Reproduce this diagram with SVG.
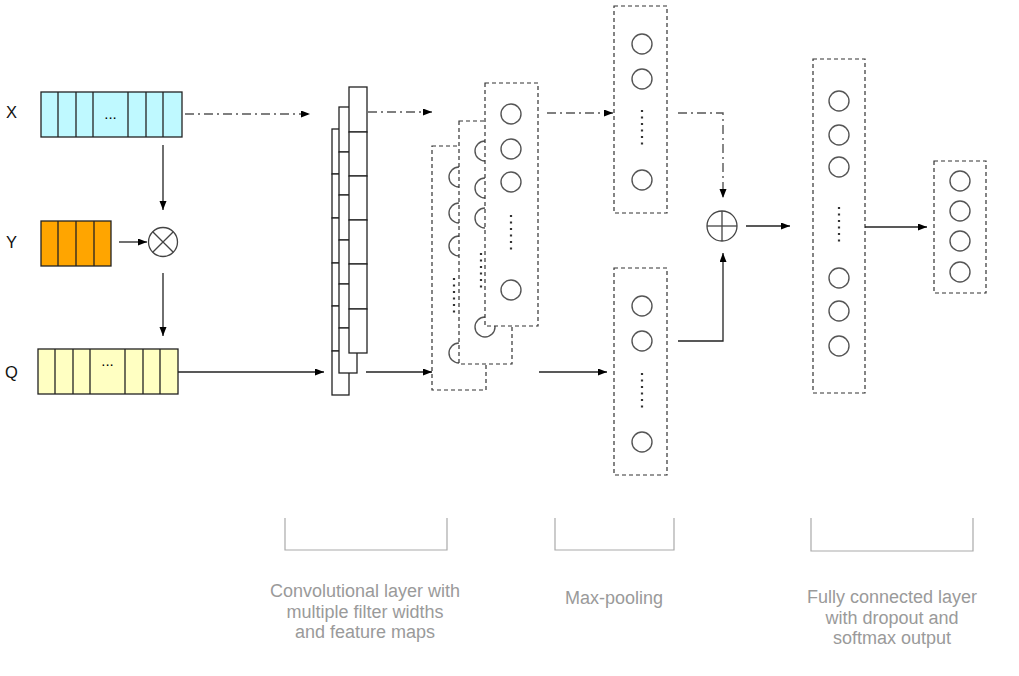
<svg xmlns="http://www.w3.org/2000/svg" width="1019" height="676" viewBox="0 0 1019 676">
<defs>
<marker id="arr" markerUnits="userSpaceOnUse" markerWidth="10" markerHeight="8" refX="9" refY="3.5" orient="auto">
<path d="M0,0 L9,3.5 L0,7 Z" fill="#000"/>
</marker>
</defs>
<style>
.lbl{font-family:"Liberation Sans",Arial,sans-serif;font-size:16.5px;fill:#111}
.dots{font-family:"Liberation Sans",Arial,sans-serif;font-size:15px;fill:#000}
.cap{font-family:"Liberation Sans",Arial,sans-serif;font-size:18px;fill:#9a9a9a;text-anchor:middle}
.cell{stroke:#222;stroke-width:1.3}
.fmap{fill:#fff;stroke:#333;stroke-width:1.2;stroke-dasharray:4 3}
.neu{fill:none;stroke:#555;stroke-width:1.4}
.vd{stroke:#333;stroke-width:2.2;stroke-dasharray:2 4.5}
.solid{fill:none;stroke:#222;stroke-width:1.3}
.dd{fill:none;stroke:#555;stroke-width:1.4;stroke-dasharray:9 4 2 4}
.brk{fill:none;stroke:#aaa;stroke-width:1.2}
.op{fill:#fff;stroke:#444;stroke-width:1.3}
</style>

<g id="label-X"><text class="lbl" x="6" y="118">X</text></g>
<g id="label-Y"><text class="lbl" x="6" y="248">Y</text></g>
<g id="label-Q"><text class="lbl" x="5" y="378">Q</text></g>

<g id="X">
<rect class="cell" x="41" y="92" width="141" height="45" fill="#bff9ff"/>
<line class="cell" x1="58" y1="92" x2="58" y2="137"/>
<line class="cell" x1="76" y1="92" x2="76" y2="137"/>
<line class="cell" x1="93" y1="92" x2="93" y2="137"/>
<line class="cell" x1="128" y1="92" x2="128" y2="137"/>
<line class="cell" x1="146" y1="92" x2="146" y2="137"/>
<line class="cell" x1="163" y1="92" x2="163" y2="137"/>
<text class="dots" x="110.5" y="119" text-anchor="middle">...</text>
</g>

<g id="Y">
<rect class="cell" x="41" y="221" width="70" height="45" fill="#ffa500"/>
<line class="cell" x1="58" y1="221" x2="58" y2="266"/>
<line class="cell" x1="76" y1="221" x2="76" y2="266"/>
<line class="cell" x1="94" y1="221" x2="94" y2="266"/>
</g>

<g id="Q">
<rect class="cell" x="38" y="349" width="140" height="45" fill="#ffffc2"/>
<line class="cell" x1="55" y1="349" x2="55" y2="394"/>
<line class="cell" x1="73" y1="349" x2="73" y2="394"/>
<line class="cell" x1="90" y1="349" x2="90" y2="394"/>
<line class="cell" x1="125" y1="349" x2="125" y2="394"/>
<line class="cell" x1="143" y1="349" x2="143" y2="394"/>
<line class="cell" x1="160" y1="349" x2="160" y2="394"/>
<text class="dots" x="107.5" y="366" text-anchor="middle">...</text>
</g>

<g id="otimes">
<circle class="op" cx="163" cy="242" r="14.5"/>
<line class="op" x1="152.7" y1="231.7" x2="173.3" y2="252.3"/>
<line class="op" x1="173.3" y1="231.7" x2="152.7" y2="252.3"/>
</g>

<g id="conv">
<g fill="#fff">
<rect class="cell" x="332" y="129" width="17" height="45"/>
<rect class="cell" x="332" y="174" width="17" height="44"/>
<rect class="cell" x="332" y="218" width="17" height="45"/>
<rect class="cell" x="332" y="263" width="17" height="43"/>
<rect class="cell" x="332" y="306" width="17" height="45"/>
<rect class="cell" x="332" y="351" width="17" height="44"/>
<rect class="cell" x="339" y="107" width="18" height="45"/>
<rect class="cell" x="339" y="152" width="18" height="43"/>
<rect class="cell" x="339" y="195" width="18" height="45"/>
<rect class="cell" x="339" y="240" width="18" height="44"/>
<rect class="cell" x="339" y="284" width="18" height="44"/>
<rect class="cell" x="339" y="328" width="18" height="45"/>
<rect class="cell" x="349" y="87" width="18" height="45"/>
<rect class="cell" x="349" y="132" width="18" height="44"/>
<rect class="cell" x="349" y="176" width="18" height="44"/>
<rect class="cell" x="349" y="220" width="18" height="44"/>
<rect class="cell" x="349" y="264" width="18" height="45"/>
<rect class="cell" x="349" y="309" width="18" height="44"/>
</g>
</g>

<g id="feature-map-1">
<rect class="fmap" x="432" y="146" width="54" height="244"/>
<circle class="neu" cx="459" cy="177" r="10"/>
<circle class="neu" cx="459" cy="213" r="10"/>
<circle class="neu" cx="459" cy="246" r="10"/>
<circle class="neu" cx="459" cy="353" r="10"/>
<line class="vd" x1="454" y1="278" x2="454" y2="316"/>
</g>
<g id="feature-map-2">
<rect class="fmap" x="459" y="121" width="53" height="243"/>
<circle class="neu" cx="485" cy="151" r="10"/>
<circle class="neu" cx="485" cy="188" r="10"/>
<circle class="neu" cx="485" cy="218" r="10"/>
<circle class="neu" cx="485" cy="327" r="10"/>
<line class="vd" x1="481" y1="253" x2="481" y2="290"/>
</g>
<g id="feature-map-3">
<rect class="fmap" x="485" y="83" width="53" height="243"/>
<circle class="neu" cx="511" cy="114" r="10"/>
<circle class="neu" cx="511" cy="149" r="10"/>
<circle class="neu" cx="511" cy="182" r="10"/>
<circle class="neu" cx="511" cy="290" r="10"/>
<line class="vd" x1="511" y1="215" x2="511" y2="253"/>
</g>

<g id="maxpool-top">
<rect class="fmap" x="614" y="6" width="53" height="207"/>
<circle class="neu" cx="642" cy="44" r="10"/>
<circle class="neu" cx="642" cy="79" r="10"/>
<circle class="neu" cx="642" cy="180" r="10"/>
<line class="vd" x1="642" y1="110" x2="642" y2="148"/>
</g>
<g id="maxpool-bottom">
<rect class="fmap" x="614" y="268" width="53" height="207"/>
<circle class="neu" cx="642" cy="306" r="10"/>
<circle class="neu" cx="642" cy="341" r="10"/>
<circle class="neu" cx="642" cy="442" r="10"/>
<line class="vd" x1="642" y1="373" x2="642" y2="410"/>
</g>

<g id="oplus">
<circle class="op" cx="722" cy="226" r="15"/>
<line class="op" x1="707" y1="226" x2="737" y2="226"/>
<line class="op" x1="722" y1="211" x2="722" y2="241"/>
</g>

<g id="fc">
<rect class="fmap" x="813" y="59" width="52" height="334"/>
<circle class="neu" cx="839" cy="101" r="10"/>
<circle class="neu" cx="839" cy="135" r="10"/>
<circle class="neu" cx="839" cy="167" r="10"/>
<circle class="neu" cx="839" cy="278" r="10"/>
<circle class="neu" cx="839" cy="311" r="10"/>
<circle class="neu" cx="839" cy="346" r="10"/>
<line class="vd" x1="839" y1="207" x2="839" y2="245"/>
</g>

<g id="output">
<rect class="fmap" x="934" y="161" width="52" height="132"/>
<circle class="neu" cx="960" cy="181" r="10"/>
<circle class="neu" cx="960" cy="211" r="10"/>
<circle class="neu" cx="960" cy="241" r="10"/>
<circle class="neu" cx="960" cy="272" r="10"/>
</g>

<g id="connectors">
<line class="dd" x1="185" y1="114" x2="310" y2="114" marker-end="url(#arr)"/>
<line class="dd" x1="368" y1="112" x2="432" y2="112" marker-end="url(#arr)"/>
<line class="solid" x1="163" y1="145" x2="163" y2="210" marker-end="url(#arr)"/>
<line class="solid" x1="119" y1="242" x2="147" y2="242" marker-end="url(#arr)"/>
<line class="solid" x1="163" y1="273" x2="163" y2="336" marker-end="url(#arr)"/>
<line class="solid" x1="178" y1="372" x2="324" y2="372" marker-end="url(#arr)"/>
<line class="solid" x1="366" y1="372" x2="432" y2="372" marker-end="url(#arr)"/>
<line class="dd" x1="547" y1="113" x2="613" y2="113" marker-end="url(#arr)"/>
<line class="solid" x1="539" y1="372" x2="607" y2="372" marker-end="url(#arr)"/>
<polyline class="dd" points="678,113 723,113 723,198" marker-end="url(#arr)"/>
<polyline class="solid" points="678,341 723,341 723,253" marker-end="url(#arr)"/>
<line class="solid" x1="746" y1="226" x2="790" y2="226" marker-end="url(#arr)"/>
<line class="solid" x1="865" y1="227" x2="927" y2="227" marker-end="url(#arr)"/>
</g>

<g id="caption-conv">
<polyline class="brk" points="285,518 285,550 447,550 447,518"/>
<text class="cap" x="365" y="597">Convolutional layer with</text>
<text class="cap" x="365" y="617.5">multiple filter widths</text>
<text class="cap" x="365" y="638">and feature maps</text>
</g>
<g id="caption-pool">
<polyline class="brk" points="555,518 555,550 674,550 674,518"/>
<text class="cap" x="614" y="604">Max-pooling</text>
</g>
<g id="caption-fc">
<polyline class="brk" points="811,518 811,551 973,551 973,518"/>
<text class="cap" x="892" y="603">Fully connected layer</text>
<text class="cap" x="892" y="623.5">with dropout and</text>
<text class="cap" x="892" y="644">softmax output</text>
</g>
</svg>
